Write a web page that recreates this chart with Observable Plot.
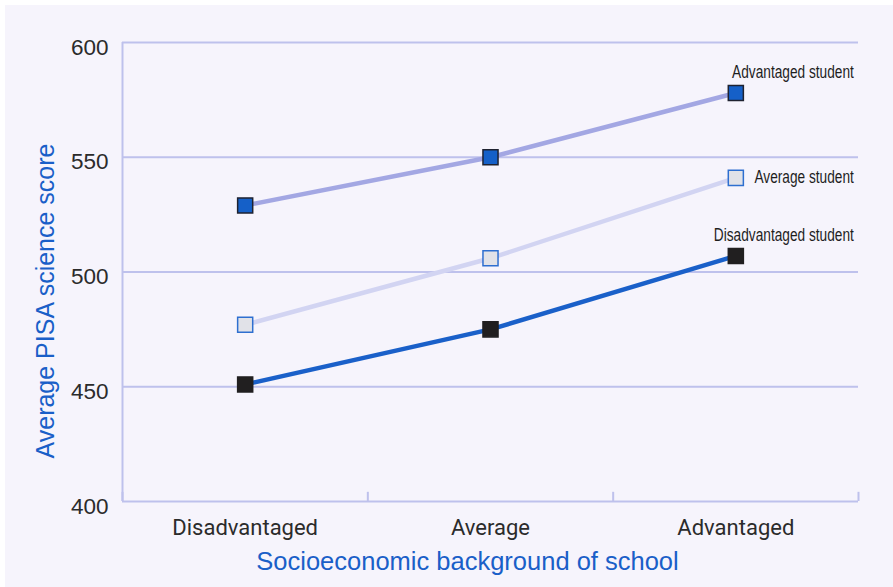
<!DOCTYPE html>
<html>
<head>
<meta charset="utf-8">
<script src="https://cdn.jsdelivr.net/npm/d3@7"></script>
<script src="https://cdn.jsdelivr.net/npm/@observablehq/plot@0.6"></script>
<style>
  html, body { margin: 0; padding: 0; background: #ffffff; }
  #wrap { position: relative; width: 893px; height: 587px; overflow: hidden; }
  #panel { position: absolute; left: 5px; top: 5px; width: 888px; height: 582px; background: #f6f4fc; }
  #chart { position: absolute; left: 0; top: 0; }
  #chart svg { background: transparent; }
</style>
</head>
<body>
<div id="wrap"><div id="panel"></div><div id="chart"></div></div>
<script>
// School socioeconomic background (x) and student background series
const schoolTypes = ["Disadvantaged", "Average", "Advantaged"];
const studentGroups = ["Advantaged student", "Average student", "Disadvantaged student"];
const advantagedScores = [529, 550, 578];
const averageScores = [477, 506, 541];
const disadvantagedScores = [451, 475, 507];
const yTicks = [400, 450, 500, 550, 600];

const seriesScores = [advantagedScores, averageScores, disadvantagedScores];
const lineColors = ["#a3a7e3", "#d2d4f2", "#1a60c9"];
const fillColors = ["#1560c8", "#e1e2e8", "#211f20"];
const edgeColors = ["#1f2230", "#2e6fd0", "#211f20"];

// Each school category sits in the middle of a unit-wide slot: 0.5, 1.5, 2.5
const rows = [];
seriesScores.forEach((vals, s) => {
  vals.forEach((v, i) => rows.push({group: studentGroups[s], s, slot: i + 0.5, score: v}));
});
const endRows = rows.filter(d => d.slot === 2.5);

const gridColor = "#bec1ec";
const sans = "'Liberation Sans', Arial, sans-serif";

const chart = Plot.plot({
  width: 893,
  height: 587,
  marginLeft: 122,
  marginRight: 35,
  marginTop: 42,
  marginBottom: 86,
  style: {background: "transparent", fontFamily: "Roboto, 'Liberation Sans', sans-serif"},
  x: {type: "linear", domain: [0, 3]},
  y: {domain: [400, 600]},
  marks: [
    Plot.ruleY(yTicks.filter(t => t > 400), {stroke: gridColor, strokeWidth: 2}),
    Plot.ruleY([400], {stroke: gridColor, strokeWidth: 2}),
    Plot.ruleX([0], {y1: 400, y2: 600, stroke: gridColor, strokeWidth: 2}),
    Plot.ruleX([0, 1, 2, 3], {y1: 400, y2: 404, stroke: gridColor, strokeWidth: 2}),
    Plot.axisY({ticks: yTicks, tickSize: 0, tickPadding: 14, dy: 5, fontSize: 22.5,
      fill: "#2b2b2b", fontFamily: sans, label: null}),
    Plot.text(["Average PISA science score"], {frameAnchor: "left", textAnchor: "middle",
      dx: -77, dy: 29, rotate: -90, fill: "#1a5fc8", fontSize: 25, fontFamily: sans}),
    Plot.axisX({ticks: [0.5, 1.5, 2.5], tickSize: 0, tickPadding: 18,
      tickFormat: d => schoolTypes[Math.floor(d)], fontSize: 22, fill: "#2b2b2b",
      label: null}),
    Plot.text(["Socioeconomic background of school"], {frameAnchor: "bottom", dy: 68, dx: -23,
      fill: "#1a5fc8", fontSize: 25.5, fontFamily: sans}),
    Plot.line(rows, {x: "slot", y: "score", z: "group",
      stroke: d => lineColors[d.s], strokeWidth: 4.5}),
    Plot.dot(rows, {x: "slot", y: "score", symbol: "square", r: 8.5,
      fill: d => fillColors[d.s], stroke: d => edgeColors[d.s], strokeWidth: 1.5}),
    Plot.text(endRows.filter(d => d.s !== 1), {x: "slot", y: "score", text: "group",
      className: "series-label", textAnchor: "end", dx: 118, dy: -21, fontSize: 18.5,
      fill: "#1e1e1e", fontFamily: sans}),
    Plot.text(endRows.filter(d => d.s === 1), {x: "slot", y: "score", text: "group",
      className: "series-label", textAnchor: "end", dx: 118, dy: -1, fontSize: 18.5,
      fill: "#1e1e1e", fontFamily: sans})
  ]
});

// Narrow the end-of-line labels horizontally, keeping their right edge fixed
d3.select(chart).selectAll(".series-label text").attr("transform", function() {
  return (this.getAttribute("transform") || "") + " scale(0.74,1)";
});

document.getElementById("chart").appendChild(chart);
</script>
</body>
</html>
